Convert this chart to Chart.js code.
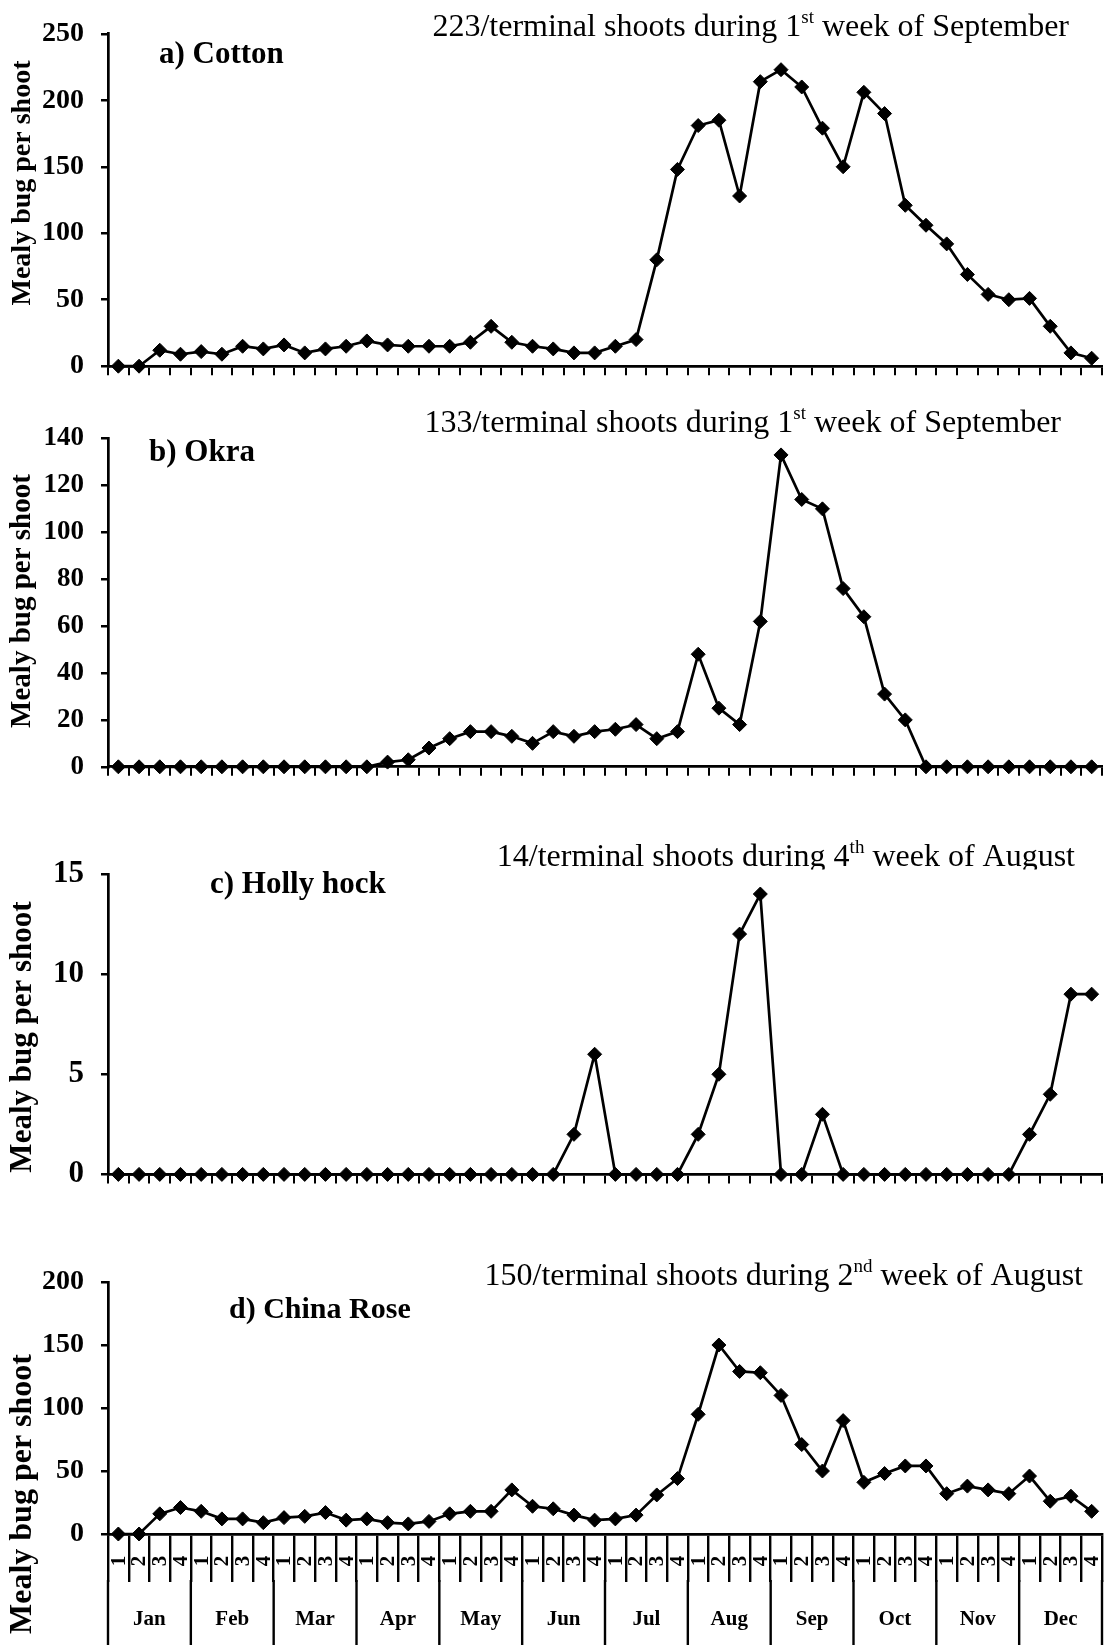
<!DOCTYPE html>
<html>
<head>
<meta charset="utf-8">
<title>Mealy bug per shoot</title>
<script src="https://cdn.jsdelivr.net/npm/chart.js@4/dist/chart.umd.min.js"></script>
<style>
  html, body { margin: 0; padding: 0; background: #fff; }
  #wrap { position: relative; width: 1113px; height: 1645px; overflow: hidden; background: #fff; }
  #wrap canvas { position: absolute; left: 0; }
</style>
</head>
<body>
<div id="wrap">
  <canvas id="cotton" width="1113" height="400" style="top:0px;width:1113px;height:400px"></canvas>
  <canvas id="okra" width="1113" height="400" style="top:400px;width:1113px;height:400px"></canvas>
  <canvas id="hollyhock" width="1113" height="410" style="top:800px;width:1113px;height:410px"></canvas>
  <canvas id="chinarose" width="1113" height="435" style="top:1210px;width:1113px;height:435px"></canvas>
</div>
<script>
// Weekly sampling: 4 weeks in each month
const MONTHS = ['Jan', 'Feb', 'Mar', 'Apr', 'May', 'Jun', 'Jul', 'Aug', 'Sep', 'Oct', 'Nov', 'Dec'];
const WEEKS = ['1', '2', '3', '4'];

// Mealy bug counts per shoot, one value per week
const COTTON = [0, 0, 12, 9, 11, 9, 15, 13, 16, 10, 13, 15, 19, 16, 15, 15, 15, 18, 30, 18, 15, 13, 10, 10,
                15, 20, 80, 148, 181, 185, 128, 214, 223, 210, 179, 150, 206, 190, 121, 106, 92, 69, 54, 50, 51, 30, 10, 6];
const OKRA = [0, 0, 0, 0, 0, 0, 0, 0, 0, 0, 0, 0, 0, 2, 3, 8, 12, 15, 15, 13, 10, 15, 13, 15,
              16, 18, 12, 15, 48, 25, 18, 62, 133, 114, 110, 76, 64, 31, 20, 0, 0, 0, 0, 0, 0, 0, 0, 0];
const HOLLYHOCK = [0, 0, 0, 0, 0, 0, 0, 0, 0, 0, 0, 0, 0, 0, 0, 0, 0, 0, 0, 0, 0, 0, 2, 6,
                   0, 0, 0, 0, 2, 5, 12, 14, 0, 0, 3, 0, 0, 0, 0, 0, 0, 0, 0, 0, 2, 4, 9, 9];
const CHINA_ROSE = [0, 0, 16, 21, 18, 12, 12, 9, 13, 14, 17, 11, 12, 9, 8, 10, 16, 18, 18, 35, 22, 20, 15, 11,
                    12, 15, 31, 44, 95, 150, 129, 128, 110, 71, 50, 90, 41, 48, 54, 54, 32, 38, 35, 32, 46, 26, 30, 18];

// Category labels "Jan 1" ... "Dec 4"
const LABELS = MONTHS.flatMap(m => WEEKS.map(w => m + ' ' + w));
const WEEK_OF = MONTHS.flatMap(() => WEEKS);

const SERIF = "'Liberation Serif', 'Times New Roman', serif";
const AXIS_TITLE = 'Mealy bug per shoot';

// Panel caption, rotated y title and the peak note (with superscript ordinal)
function panelText(o) {
  return {
    id: 'panelText',
    afterDraw(chart) {
      const ctx = chart.ctx;
      ctx.save();
      ctx.fillStyle = '#000';
      ctx.textBaseline = 'alphabetic';
      ctx.textAlign = 'left';

      ctx.font = `bold ${o.titleSize}px ${SERIF}`;
      ctx.fillText(o.title, o.titleX, o.titleY);

      ctx.save();
      ctx.translate(o.axisX, o.axisY);
      ctx.rotate(-Math.PI / 2);
      ctx.font = `bold ${o.axisSize}px ${SERIF}`;
      ctx.textAlign = 'center';
      ctx.textBaseline = 'middle';
      ctx.fillText(AXIS_TITLE, 0, 0);
      ctx.restore();

      const n = o.note;
      const mainFont = `${n.size}px ${SERIF}`;
      const supFont = `${Math.round(n.size * 0.6)}px ${SERIF}`;
      ctx.font = mainFont;
      const w1 = ctx.measureText(n.lead).width;
      const w3 = ctx.measureText(n.tail).width;
      ctx.font = supFont;
      const w2 = ctx.measureText(n.sup).width;
      let x = n.right - (w1 + w2 + w3);
      if (n.clipBottom) {
        ctx.beginPath();
        ctx.rect(0, 0, chart.width, n.clipBottom);
        ctx.clip();
      }
      ctx.font = mainFont;
      ctx.fillText(n.lead, x, n.baseline);
      x += w1;
      ctx.font = supFont;
      ctx.fillText(n.sup, x, n.baseline - n.size * 0.4);
      x += w2;
      ctx.font = mainFont;
      ctx.fillText(n.tail, x, n.baseline);
      ctx.restore();
    }
  };
}

// Two-level week / month category table under the last panel
const calendarAxis = {
  id: 'calendarAxis',
  afterDraw(chart) {
    const xs = chart.scales.x;
    const ctx = chart.ctx;
    const axisY = chart.chartArea.bottom;
    const cell = xs.getPixelForValue(1) - xs.getPixelForValue(0);
    const weekRowBottom = axisY + 48;
    ctx.save();
    ctx.fillStyle = '#000';
    ctx.strokeStyle = '#000';

    ctx.font = `bold 21px ${SERIF}`;
    ctx.textAlign = 'center';
    ctx.textBaseline = 'middle';
    WEEK_OF.forEach((w, i) => {
      ctx.save();
      ctx.translate(xs.getPixelForValue(i) + 1, axisY + 27);
      ctx.rotate(-Math.PI / 2);
      ctx.fillText(w, 0, 0);
      ctx.restore();
    });

    ctx.lineWidth = 2.4;
    for (let m = 0; m <= MONTHS.length; m++) {
      const x = m < MONTHS.length
        ? xs.getPixelForValue(m * WEEKS.length) - cell / 2
        : xs.getPixelForValue(m * WEEKS.length - 1) + cell / 2;
      ctx.beginPath();
      ctx.moveTo(x, weekRowBottom - 2);
      ctx.lineTo(x, chart.height);
      ctx.stroke();
    }

    ctx.font = `bold 21px ${SERIF}`;
    MONTHS.forEach((m, k) => {
      const a = xs.getPixelForValue(k * WEEKS.length);
      const b = xs.getPixelForValue(k * WEEKS.length + WEEKS.length - 1);
      ctx.fillText(m, (a + b) / 2, axisY + 86);
    });
    ctx.restore();
  }
};

function makePanel(id, values, yMax, yStep, layout, text, extra) {
  const xHeight = extra && extra.xHeight ? extra.xHeight : 16;
  const tickLen = extra && extra.xTick ? extra.xTick : 9;
  const xLine = extra && extra.xLine ? extra.xLine : 2;
  const plugins = [panelText(text)];
  if (extra && extra.calendar) plugins.push(calendarAxis);
  return new Chart(document.getElementById(id), {
    type: 'line',
    data: {
      labels: LABELS,
      datasets: [{
        data: values,
        borderColor: '#000',
        borderWidth: 2.7,
        pointStyle: 'rectRot',
        pointRadius: 7,
        pointBackgroundColor: '#000',
        pointBorderColor: '#000',
        pointBorderWidth: 1,
        tension: 0,
        clip: false
      }]
    },
    options: {
      responsive: false,
      animation: false,
      events: [],
      layout: { padding: layout },
      plugins: { legend: { display: false }, tooltip: { enabled: false } },
      scales: {
        x: {
          type: 'category',
          offset: true,
          ticks: { display: false },
          grid: { offset: true, drawOnChartArea: false, drawTicks: true, tickLength: tickLen, color: '#000', lineWidth: xLine },
          border: { color: '#000', width: 2.7 },
          afterFit(s) { s.height = xHeight; }
        },
        y: {
          min: 0,
          max: yMax,
          ticks: {
            stepSize: yStep,
            color: '#000',
            padding: 17,
            font: { family: SERIF, weight: 'bold', size: text.tickSize }
          },
          grid: { drawOnChartArea: false, drawTicks: true, tickLength: 7, color: '#000', lineWidth: 2.5 },
          border: { color: '#000', width: 2.7 },
          afterFit(s) { s.width = 108; }
        }
      }
    },
    plugins
  });
}

makePanel('cotton', COTTON, 250, 50,
  { top: 32, bottom: 16, left: 0, right: 11 },
  {
    title: 'a) Cotton', titleX: 159, titleY: 63, titleSize: 31,
    axisX: 23, axisY: 183, axisSize: 28, tickSize: 28,
    note: { lead: '223/terminal shoots during 1', sup: 'st', tail: ' week of September', size: 32, right: 1069, baseline: 36 }
  });

makePanel('okra', OKRA, 140, 20,
  { top: 38.5, bottom: 5.5, left: 0, right: 11 },
  {
    title: 'b) Okra', titleX: 149, titleY: 61, titleSize: 31,
    axisX: 23, axisY: 201, axisSize: 29, tickSize: 27,
    note: { lead: '133/terminal shoots during 1', sup: 'st', tail: ' week of September', size: 32, right: 1061, baseline: 32 }
  });

makePanel('hollyhock', HOLLYHOCK, 15, 5,
  { top: 74, bottom: 1, left: 0, right: 11 },
  {
    title: 'c) Holly hock', titleX: 210, titleY: 93, titleSize: 31,
    axisX: 23, axisY: 237, axisSize: 31, tickSize: 31,
    note: { lead: '14/terminal shoots during 4', sup: 'th', tail: ' week of August', size: 32, right: 1075, baseline: 66, clipBottom: 69.5 }
  });

makePanel('chinarose', CHINA_ROSE, 200, 50,
  { top: 72, bottom: 0, left: 0, right: 11 },
  {
    title: 'd) China Rose', titleX: 229, titleY: 108, titleSize: 30,
    axisX: 23, axisY: 284, axisSize: 32, tickSize: 28,
    note: { lead: '150/terminal shoots during 2', sup: 'nd', tail: ' week of August', size: 32, right: 1083, baseline: 75 }
  },
  { xHeight: 111, xTick: 48, xLine: 2.4, calendar: true });
</script>
</body>
</html>
